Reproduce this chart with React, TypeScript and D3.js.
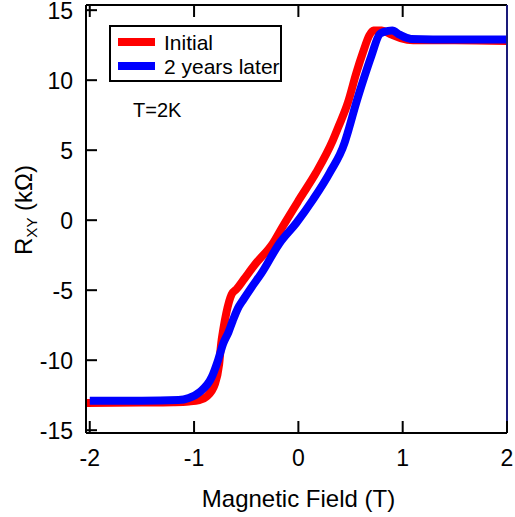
import React from "react";
import * as d3 from "d3";

// Hall resistance R_xy versus magnetic field, two measurements of the same sample
const initialField = [-2.03, -1.5, -1.2, -1.05, -0.95, -0.88, -0.8, -0.76, -0.74, -0.72, -0.69, -0.64, -0.59, -0.52, -0.42, -0.24, -0.15, 0.01, 0.17, 0.33, 0.38, 0.475, 0.555, 0.62, 0.68, 0.72, 0.8, 0.88, 0.98, 1.1, 1.5, 2.0];
const initialRxy = [-13.05, -13.03, -13.0, -12.95, -12.85, -12.6, -11.7, -10.3, -8.8, -7.8, -6.6, -5.3, -4.9, -4.2, -3.2, -1.6, -0.45, 1.5, 3.4, 5.7, 6.6, 8.4, 10.5, 12.0, 13.2, 13.55, 13.55, 13.3, 13.0, 12.85, 12.85, 12.8];

const laterField = [-2.0, -1.5, -1.15, -1.05, -0.945, -0.83, -0.77, -0.72, -0.67, -0.63, -0.58, -0.53, -0.45, -0.355, -0.18, -0.02, 0.14, 0.3, 0.443, 0.475, 0.555, 0.635, 0.7, 0.78, 0.82, 0.9, 0.97, 1.08, 1.5, 2.0];
const laterRxy = [-12.9, -12.9, -12.85, -12.7, -12.27, -11.2, -10.0, -8.8, -8.0, -7.2, -6.3, -5.7, -4.8, -3.8, -1.64, -0.2, 1.47, 3.38, 5.53, 6.3, 8.4, 10.3, 11.74, 13.3, 13.45, 13.55, 13.25, 12.95, 12.9, 12.9];

const xTicks = [-2, -1, 0, 1, 2];
const yTicks = [-15, -10, -5, 0, 5, 10, 15];
const seriesNames = ["Initial", "2 years later"];
const seriesColors = ["#ff0000", "#0000ff"];

const W = 515;
const H = 517;
const left = 86;
const right = 507;
const top = 5;
const bottom = 433;
const font = "'Liberation Sans', Arial, sans-serif";

export default function App() {
  const x = d3.scaleLinear().domain([-2.036, 2.0]).range([left, right]);
  const y = d3.scaleLinear().domain([-15.2, 15.37]).range([bottom, top]);

  const line = d3
    .line<[number, number]>()
    .x((d) => x(d[0]))
    .y((d) => y(d[1]))
    .curve(d3.curveMonotoneX);

  const series = [
    d3.zip(initialField, initialRxy) as [number, number][],
    d3.zip(laterField, laterRxy) as [number, number][],
  ];

  return (
    <svg
      width={W}
      height={H}
      style={{ position: "absolute", left: 0, top: 0, background: "#fff" }}
      fontFamily={font}
    >
      <rect x={0} y={0} width={W} height={H} fill="#fff" />

      {/* data curves */}
      {series.map((s, i) => (
        <path
          key={i}
          d={line(s) || ""}
          fill="none"
          stroke={seriesColors[i]}
          strokeWidth={8}
          strokeLinejoin="round"
        />
      ))}

      {/* frame */}
      <line x1={left} x2={right} y1={bottom} y2={bottom} stroke="#000" strokeWidth={2} />
      <line x1={left} x2={right} y1={top} y2={top} stroke="#000" strokeWidth={2} />
      <line x1={left} x2={left} y1={top} y2={bottom} stroke="#000" strokeWidth={2} />
      <line x1={right} x2={right} y1={top} y2={bottom} stroke="#1a1a7a" strokeWidth={2} />

      {/* x ticks */}
      {xTicks.map((t) => (
        <g key={"x" + t}>
          <line x1={x(t)} x2={x(t)} y1={bottom} y2={bottom - 12} stroke="#000" strokeWidth={2} />
          {t < 2 && (
            <line x1={x(t)} x2={x(t)} y1={top} y2={top + 12} stroke="#000" strokeWidth={2} />
          )}
          <text x={x(t)} y={466} textAnchor="middle" fontSize={23} fill="#000">
            {t < 0 ? "-" + Math.abs(t) : String(t)}
          </text>
        </g>
      ))}

      {/* y ticks */}
      {yTicks.map((t) => (
        <g key={"y" + t}>
          <line x1={left} x2={left + 11} y1={y(t)} y2={y(t)} stroke="#000" strokeWidth={2} />
          <text x={left - 13} y={y(t) + 8.5} textAnchor="end" fontSize={23} fill="#000">
            {t < 0 ? "-" + Math.abs(t) : String(t)}
          </text>
        </g>
      ))}

      {/* axis titles */}
      <text x={(left + right) / 2 + 2} y={507} textAnchor="middle" fontSize={24} fill="#000">
        Magnetic Field (T)
      </text>
      <text
        transform={`translate(32, 210) rotate(-90)`}
        textAnchor="middle"
        fontSize={24}
        fill="#000"
      >
        R
        <tspan fontSize={15} dy={5}>XY</tspan>
        <tspan dy={-5}> (kΩ)</tspan>
      </text>

      {/* legend */}
      <rect x={110} y={26} width={171} height={55} fill="#fff" stroke="#000" strokeWidth={2} />
      {seriesNames.map((name, i) => (
        <g key={name}>
          <line x1={118} x2={155} y1={42 + i * 24} y2={42 + i * 24} stroke={seriesColors[i]} strokeWidth={8} />
          <text x={164} y={49.5 + i * 24} fontSize={21} fill="#000">
            {name}
          </text>
        </g>
      ))}

      <text x={133} y={117} fontSize={20} fill="#000">
        T=2K
      </text>
    </svg>
  );
}
